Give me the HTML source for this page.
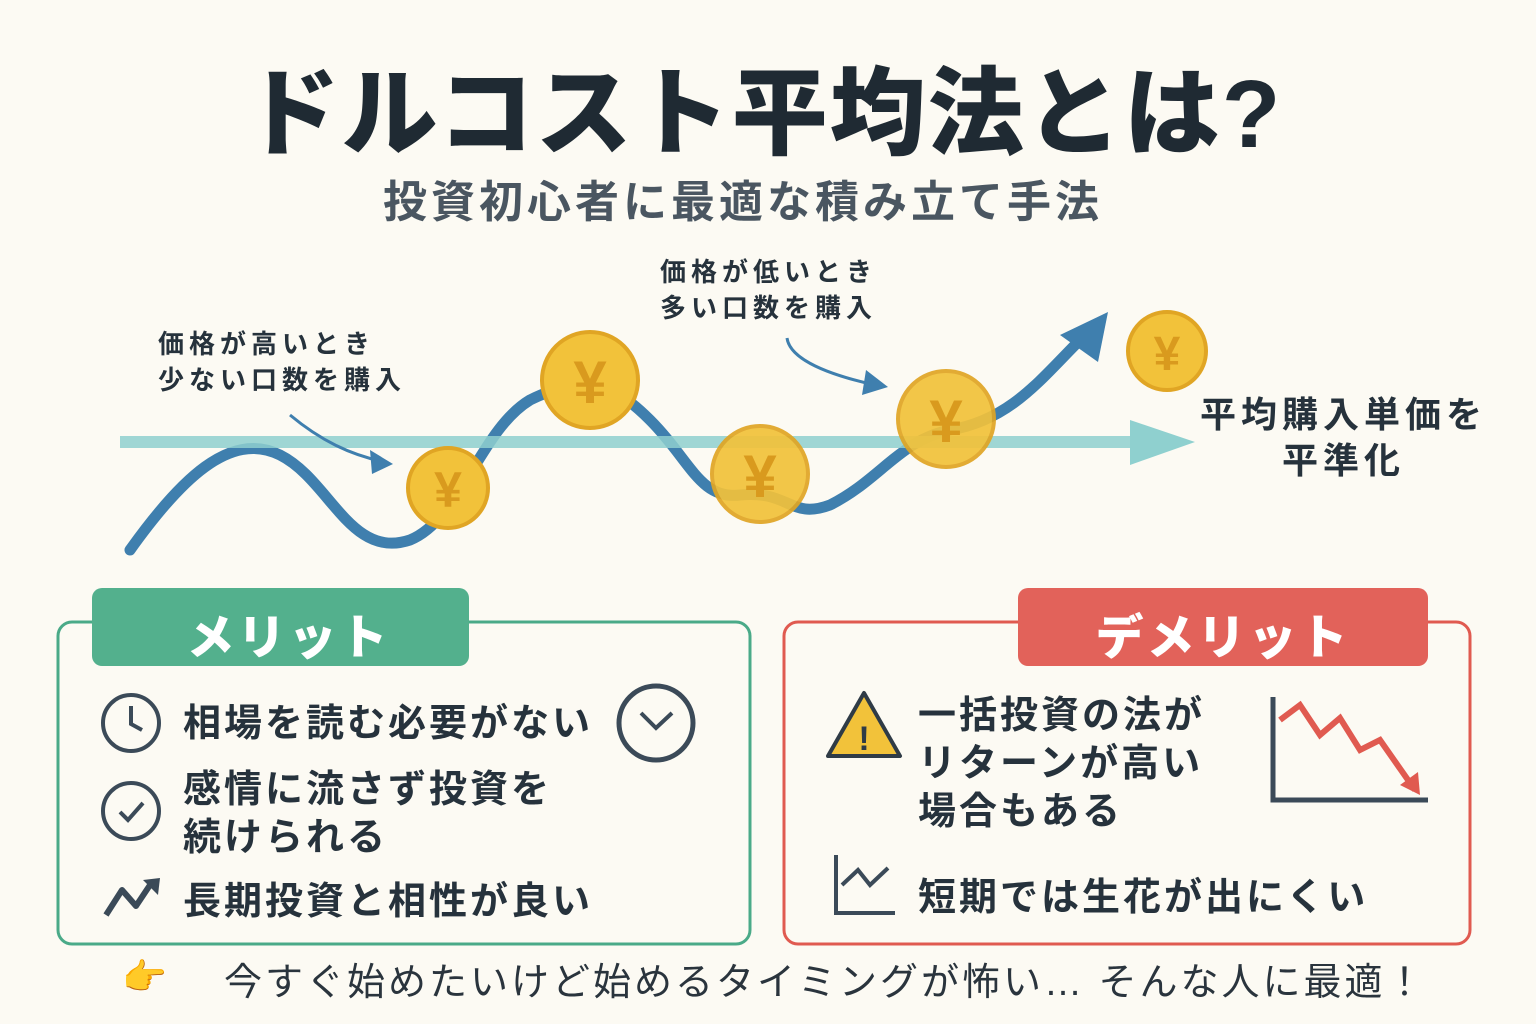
<!DOCTYPE html>
<html><head><meta charset="utf-8"><style>
body{margin:0;width:1536px;height:1024px;background:#fcfaf3;position:relative;overflow:hidden;font-family:"Liberation Sans","Noto Sans CJK JP",sans-serif;color:#26323c}
.a{position:absolute;white-space:nowrap}
</style></head><body>
<div class="a" style="left:0;width:1526px;top:36px;text-align:center;font-size:96px;font-weight:900;color:#1f2a33;letter-spacing:2px">ドルコスト平均法とは?</div>
<div class="a" style="left:0;width:1486px;top:166px;text-align:center;font-size:44px;font-weight:700;color:#4a5661;letter-spacing:4px">投資初心者に最適な積み立て手法</div>

<svg class="a" style="left:0;top:0" width="1536" height="1024">
<path d="M130,550 C180,480 230,430 280,455 C330,480 350,560 410,540 C460,520 480,430 530,400 C590,370 620,390 650,420 C690,460 700,500 740,495 C790,490 790,520 830,505 C880,480 900,440 950,430 C1010,420 1040,380 1080,340" fill="none" stroke="#3f7fae" stroke-width="11" stroke-linecap="round"/>
<path d="M1060,335 L1108,312 L1098,362 Z" fill="#3f7fae"/>
<line x1="120" y1="442" x2="1140" y2="442" stroke="#8fd0cf" stroke-width="12" opacity="0.85"/>
<path d="M1130,420 L1195,442 L1130,465 Z" fill="#8fd0cf"/>
<path d="M290,415 C320,440 350,455 385,462" fill="none" stroke="#3f7fae" stroke-width="3"/>
<path d="M370,450 L393,464 L372,474Z" fill="#3f7fae"/>
<path d="M787,338 C790,360 830,375 875,385" fill="none" stroke="#3f7fae" stroke-width="3"/>
<path d="M866,370 L888,387 L862,395Z" fill="#3f7fae"/>
<g font-family="Liberation Sans,Noto Sans CJK JP,sans-serif" font-weight="700" text-anchor="middle">
<g><circle cx="448" cy="488" r="40" fill="#f2c23a" stroke="#e0a524" stroke-width="4"/><text x="448" y="507" font-size="50" fill="#d99a1e">¥</text></g>
<g><circle cx="590" cy="380" r="48" fill="#f2c23a" stroke="#e0a524" stroke-width="4"/><text x="590" y="403" font-size="60" fill="#d99a1e">¥</text></g>
<g><circle cx="760" cy="474" r="48" fill="#f2c23a" stroke="#e0a524" stroke-width="4" opacity="0.92"/><text x="760" y="497" font-size="60" fill="#d99a1e">¥</text></g>
<g><circle cx="946" cy="419" r="48" fill="#f2c23a" stroke="#e0a524" stroke-width="4" opacity="0.92"/><text x="946" y="442" font-size="60" fill="#d99a1e">¥</text></g>
<g><circle cx="1167" cy="351" r="39" fill="#f2c23a" stroke="#e0a524" stroke-width="4"/><text x="1167" y="370" font-size="48" fill="#d99a1e">¥</text></g>
</g>
<rect x="58" y="622" width="692" height="322" rx="14" fill="none" stroke="#4aaa88" stroke-width="3"/>
<rect x="92" y="588" width="377" height="78" rx="10" fill="#53b08d"/>
<rect x="784" y="622" width="686" height="322" rx="14" fill="none" stroke="#e05a50" stroke-width="3"/>
<rect x="1018" y="588" width="410" height="78" rx="10" fill="#e2625a"/>
<circle cx="131" cy="723" r="28" fill="none" stroke="#3b4a58" stroke-width="4"/>
<path d="M131,706V724L142,730" fill="none" stroke="#3b4a58" stroke-width="4"/>
<circle cx="131" cy="811" r="28" fill="none" stroke="#3b4a58" stroke-width="4"/>
<path d="M120,812L128,820L143,803" fill="none" stroke="#3b4a58" stroke-width="4"/>
<path d="M106,915L122,890L136,906L152,882" fill="none" stroke="#3b4a58" stroke-width="6" stroke-linejoin="round"/>
<path d="M143,880L160,878L158,895Z" fill="#3b4a58"/>
<circle cx="656" cy="723" r="37" fill="none" stroke="#3b4a58" stroke-width="5"/>
<path d="M641,713L656,728L672,713" fill="none" stroke="#3b4a58" stroke-width="4"/>
<path d="M864,693L900,756H828Z" fill="#f2c23a" stroke="#2f3b46" stroke-width="4" stroke-linejoin="round"/>
<text x="864" y="750" font-size="34" font-weight="700" text-anchor="middle" fill="#2f3b46">!</text>
<path d="M1273,697V800H1428" fill="none" stroke="#3b4a58" stroke-width="5"/>
<path d="M1280,720L1300,705L1320,735L1340,718L1360,750L1380,740L1415,790" fill="none" stroke="#e05a50" stroke-width="6"/>
<path d="M1400,785L1420,795L1418,772Z" fill="#e05a50"/>
<path d="M836,855V913H895" fill="none" stroke="#3b4a58" stroke-width="4"/>
<path d="M842,885L858,870L870,885L888,868" fill="none" stroke="#3b4a58" stroke-width="4"/>
</svg>

<div class="a" style="left:158px;top:326px;font-size:26px;font-weight:700;line-height:36px;letter-spacing:5px">価格が高いとき<br>少ない口数を購入</div>
<div class="a" style="left:660px;top:254px;font-size:26px;font-weight:700;line-height:36px;letter-spacing:5px">価格が低いとき<br>多い口数を購入</div>
<div class="a" style="left:1200px;top:392px;font-size:36px;font-weight:700;line-height:46px;text-align:center;letter-spacing:5px">平均購入単価を<br>平準化</div>

<div class="a" style="left:100px;width:377px;top:598px;text-align:center;font-size:48px;font-weight:900;color:#fff;letter-spacing:3px">メリット</div>
<div class="a" style="left:1018px;width:410px;top:598px;text-align:center;font-size:48px;font-weight:900;color:#fff;letter-spacing:3px">デメリット</div>

<div class="a" style="left:183px;top:692px;font-size:38px;font-weight:700;letter-spacing:3px">相場を読む必要がない</div>
<div class="a" style="left:183px;top:766px;font-size:38px;font-weight:700;line-height:48px;letter-spacing:3px">感情に流さず投資を<br>続けられる</div>
<div class="a" style="left:183px;top:870px;font-size:38px;font-weight:700;letter-spacing:3px">長期投資と相性が良い</div>

<div class="a" style="left:918px;top:692px;font-size:38px;font-weight:700;line-height:48px;letter-spacing:3px">一括投資の法が<br>リターンが高い<br>場合もある</div>
<div class="a" style="left:918px;top:866px;font-size:38px;font-weight:700;letter-spacing:3px">短期では生花が出にくい</div>

<div class="a" style="left:122px;top:956px;font-size:36px">👉</div>
<div class="a" style="left:224px;top:951px;font-size:38px;letter-spacing:3px;color:#2a343d">今すぐ始めたいけど始めるタイミングが怖い… そんな人に最適！</div>
</body></html>
